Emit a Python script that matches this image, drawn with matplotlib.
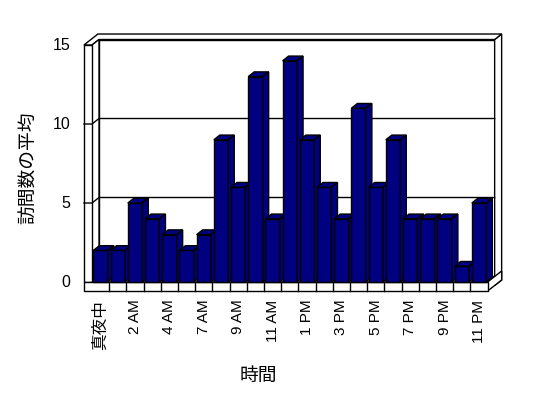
import matplotlib
matplotlib.use("Agg")
import matplotlib.pyplot as plt
from matplotlib.patches import Polygon

plt.rcParams['font.family'] = ['Liberation Sans', 'Noto Sans CJK JP', 'DejaVu Sans']

# ---- data ----
hour_labels = ["真夜中", "1 AM", "2 AM", "3 AM", "4 AM", "5 AM", "7 AM", "8 AM",
               "9 AM", "10 AM", "11 AM", "12 PM", "1 PM", "2 PM", "3 PM", "4 PM",
               "5 PM", "6 PM", "7 PM", "8 PM", "9 PM", "10 PM", "11 PM"]
visits = [2, 2, 5, 4, 3, 2, 3, 9, 6, 13, 4, 14, 9, 6, 4, 11, 6, 9, 4, 4, 4, 1, 5]
y_ticks = [0, 5, 10, 15]

n = len(visits)
DX, DY = 0.407, 0.348          # oblique depth step (data units)
WALL = 0.47                    # left wall thickness (categories)
FLOOR = 0.57                   # floor thickness (value units)
BAR_W, BAR_D = 0.84, 0.86
NAVY = "#000080"


def P(x, y, d):
    return (x + d * DX, y + d * DY)


def face(ax, pts, fc="white", z=1):
    ax.add_patch(Polygon(pts, closed=True, facecolor=fc, edgecolor="black",
                         linewidth=1, zorder=z, joinstyle="miter"))


fig = plt.figure(figsize=(5.48, 3.98), dpi=100)
ax = fig.add_axes([80 / 548, 1 - 300 / 398, 430 / 548, 270 / 398])
ax.set_xlim(-1.198, 23.80)
ax.set_ylim(-1.139, 15.95)
ax.axis("off")

x0, x1, xr = -0.5 - WALL, -0.5, n - 0.5
ytop = y_ticks[-1]

# back wall slab (depth 1..2)
face(ax, [P(x1, 0, 1), P(xr, 0, 1), P(xr, ytop, 1), P(x1, ytop, 1)])
face(ax, [P(xr, -FLOOR, 1), P(xr, -FLOOR, 2), P(xr, ytop, 2), P(xr, ytop, 1)])
face(ax, [P(x0, ytop, 2), P(xr, ytop, 2), P(xr, ytop, 1), P(x1, ytop, 1),
          P(x1, ytop, 0), P(x0, ytop, 0)])
# left wall
face(ax, [P(x1, 0, 0), P(x1, 0, 1), P(x1, ytop, 1), P(x1, ytop, 0)])
face(ax, [P(x0, 0, 0), P(x1, 0, 0), P(x1, ytop, 0), P(x0, ytop, 0)])
# floor
face(ax, [P(x1, 0, 0), P(xr, 0, 0), P(xr, 0, 1), P(x1, 0, 1)])
face(ax, [P(xr, -FLOOR, 0), P(xr, -FLOOR, 2), P(xr, 0, 2), P(xr, 0, 0)])
face(ax, [P(x0, -FLOOR, 0), P(xr, -FLOOR, 0), P(xr, 0, 0), P(x0, 0, 0)])

# floor dividers
for k in range(1, n):
    ax.plot([k - 0.5, k - 0.5], [-FLOOR, 0], color="black", lw=1, zorder=2)

# gridlines
for v in y_ticks[1:-1]:
    pts = [P(x0, v, 0), P(x1, v, 0), P(x1, v, 1), P(xr, v, 1)]
    ax.plot([p[0] for p in pts], [p[1] for p in pts], color="black", lw=1, zorder=2)

# bars
for i, v in enumerate(visits):
    l, r = i - BAR_W / 2, i + BAR_W / 2
    ax.bar(i, v, width=BAR_W, color=NAVY, edgecolor="black", linewidth=1,
           zorder=3 + i * 0.01)
    face(ax, [P(l, v, 0), P(r, v, 0), P(r, v, BAR_D), P(l, v, BAR_D)], NAVY, 3 + i * 0.01)
    face(ax, [P(r, 0, 0), P(r, v, 0), P(r, v, BAR_D), P(r, 0, BAR_D)], NAVY, 3 + i * 0.01)

# tick labels
for v in y_ticks:
    ax.text(-1.75, v, str(v), ha="right", va="center", fontsize=11.5, clip_on=False)
for i in range(0, n, 2):
    lab = hour_labels[i]
    ax.text(i, -FLOOR - 0.55, lab, rotation=90, ha="center", va="top",
            fontsize=12 if i == 0 else 11, clip_on=False)

fig.text(258 / 548, 1 - 376 / 398, "時間", ha="center", va="center", fontsize=13.5)
fig.text(30 / 548, 1 - 168 / 398, "訪問数の平均", ha="center", va="center",
         rotation=90, fontsize=13.5)

fig.savefig("out.png", dpi=100)
